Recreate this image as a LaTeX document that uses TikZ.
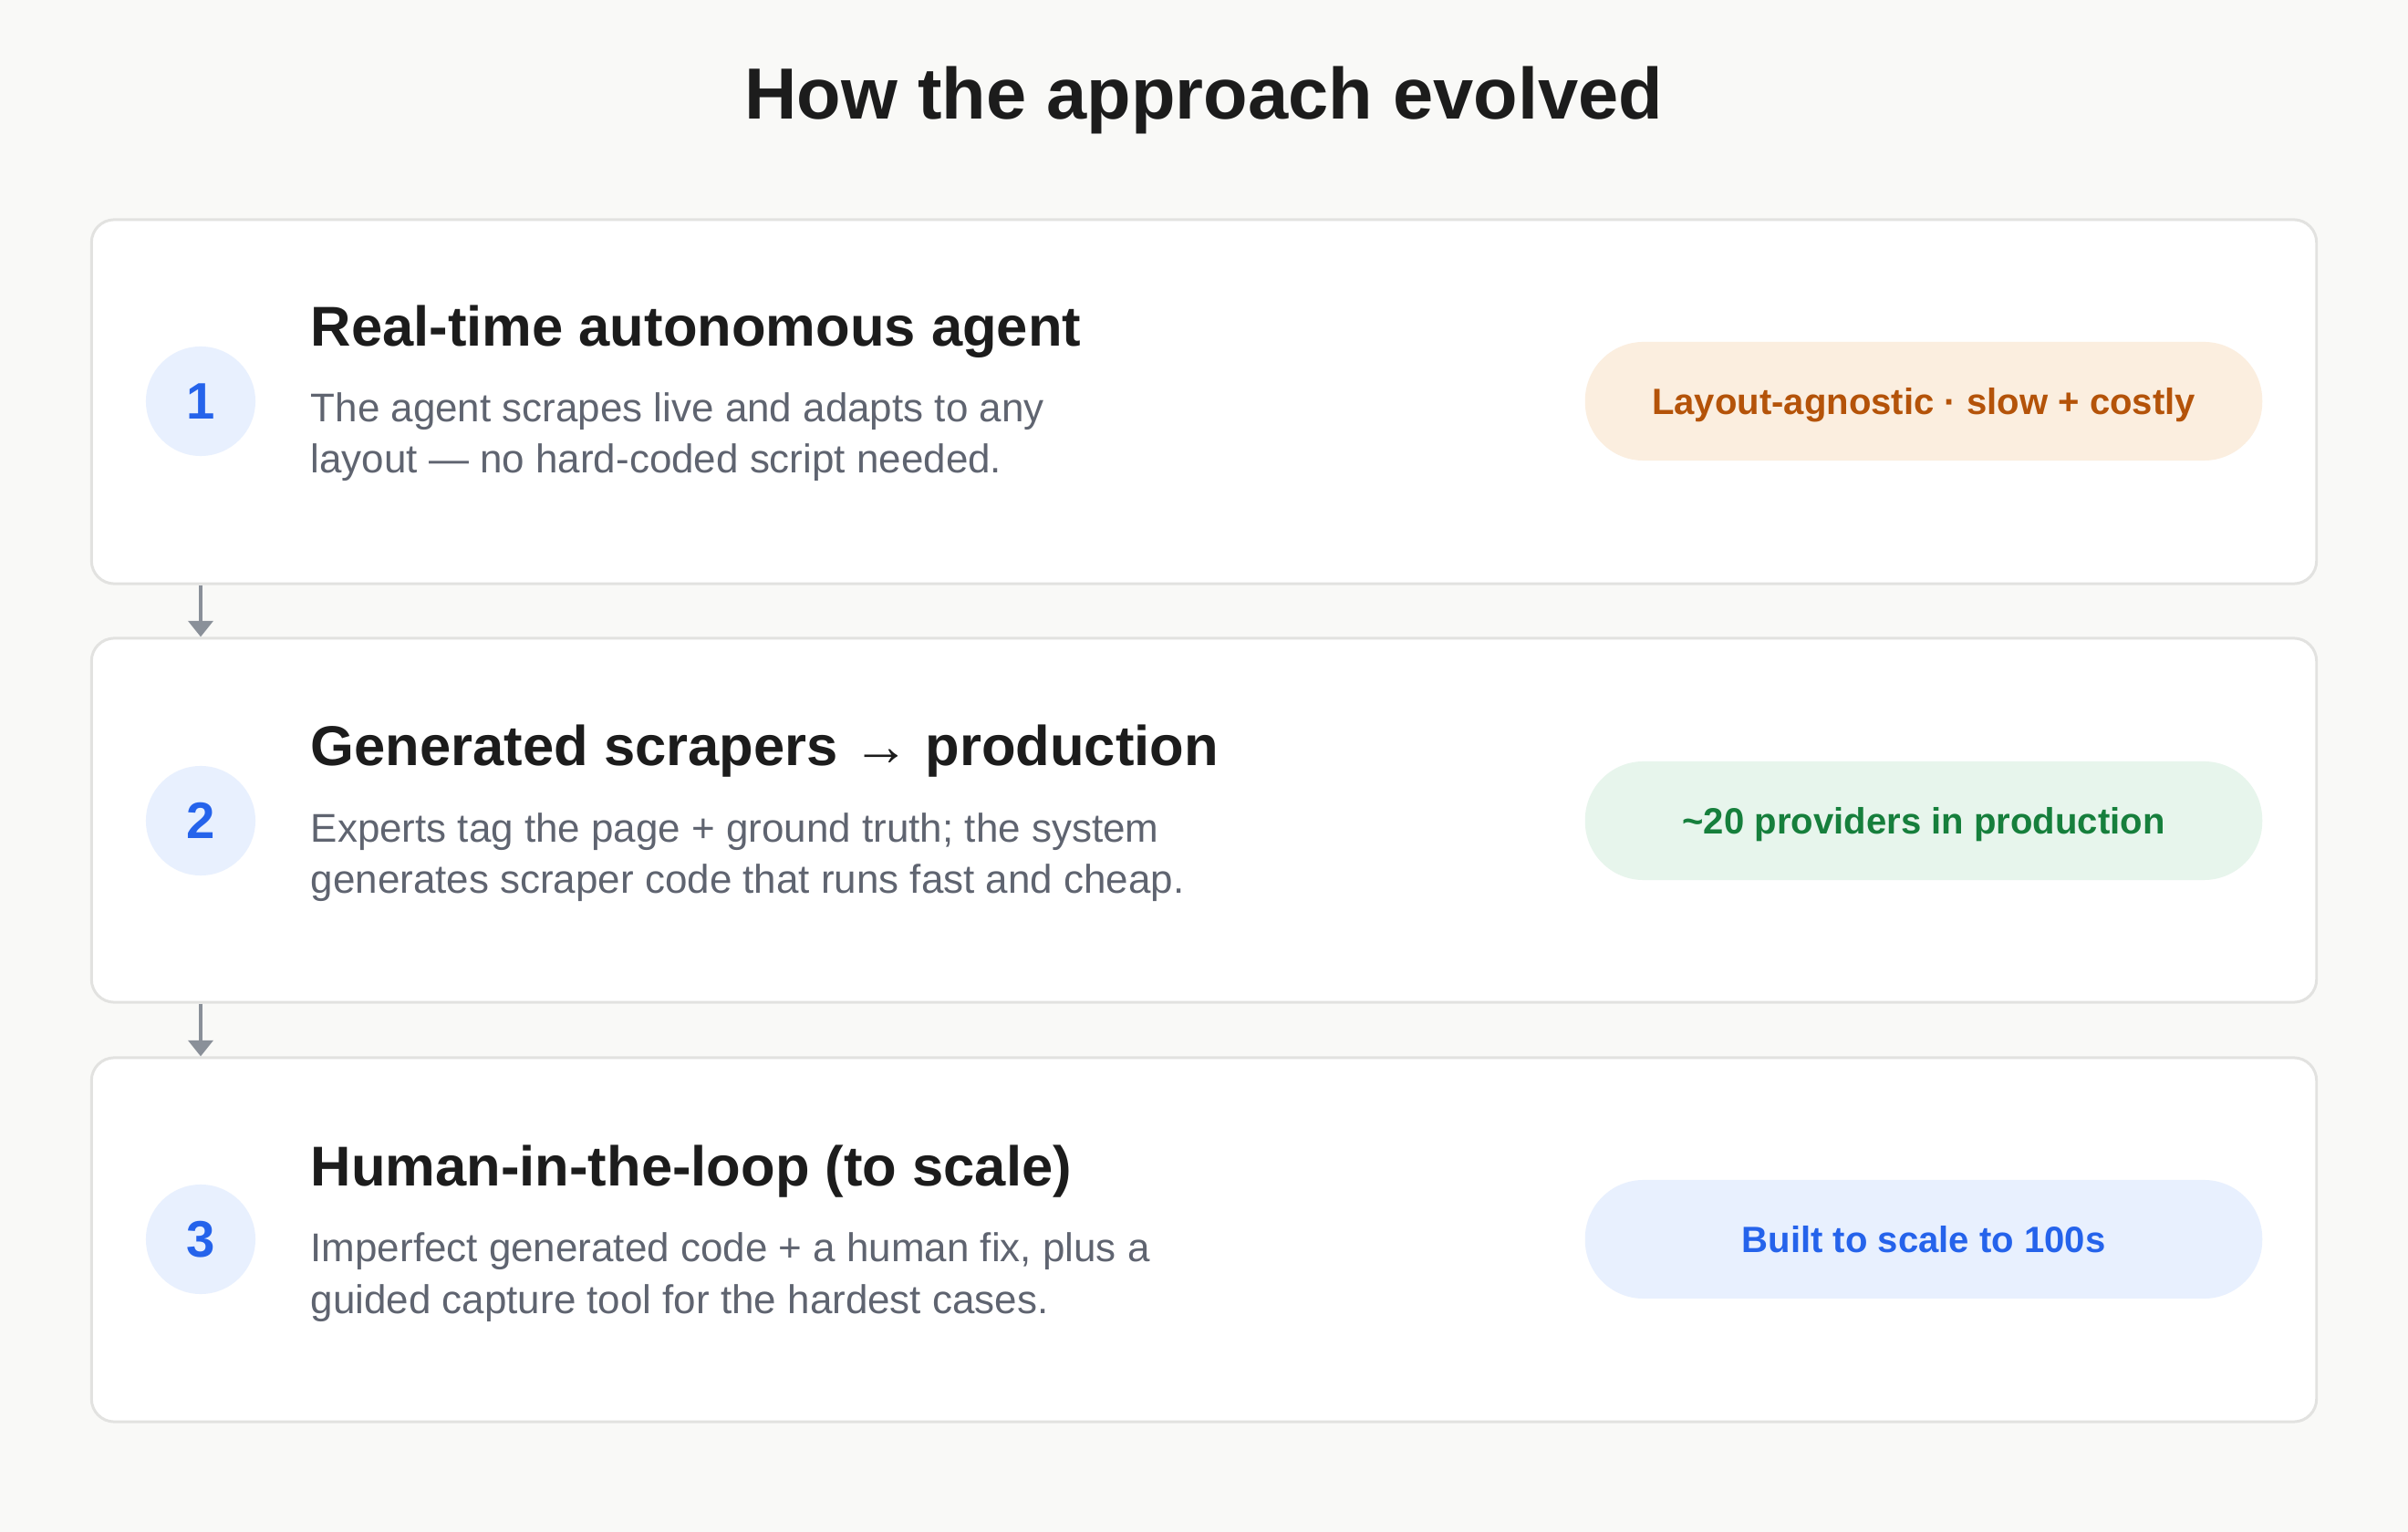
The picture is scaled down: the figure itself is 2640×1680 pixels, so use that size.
\documentclass[tikz,border=0pt]{standalone}
\usepackage{fontspec}
\setmainfont{Liberation Sans}
\usetikzlibrary{arrows.meta}

\definecolor{pagebg}{HTML}{F9F9F7}
\definecolor{cardline}{HTML}{E2E2E0}
\definecolor{headink}{HTML}{1C1C1C}
\definecolor{descink}{HTML}{5F6470}
\definecolor{numfill}{HTML}{E8F0FE}
\definecolor{numblue}{HTML}{2563EB}
\definecolor{arrowgray}{HTML}{8A9099}
\definecolor{orangefill}{HTML}{FBEEDF}
\definecolor{orangeink}{HTML}{B45309}
\definecolor{greenfill}{HTML}{E7F5EC}
\definecolor{greenink}{HTML}{167F3C}
\definecolor{bluefill}{HTML}{E8F0FE}
\definecolor{blueink}{HTML}{2563EB}

\begin{document}
\begin{tikzpicture}[x=0.01cm, y=-0.01cm,
  cardnode/.style={draw=cardline, line width=0.85pt, fill=white, rounded corners=0.25cm,
    minimum width=24.38cm, minimum height=3.99cm, inner sep=0},
  numnode/.style={shape=circle, fill=numfill, minimum size=1.2cm, inner sep=0,
    text=numblue, font=\fontsize{16}{19}\selectfont\bfseries},
  headnode/.style={anchor=base west, inner sep=0, text=headink,
    font=\fontsize{17.5}{21}\selectfont\bfseries},
  descnode/.style={anchor=base west, inner sep=0, align=left, text=descink,
    font=\fontsize{12.5}{16.2}\selectfont},
  pillnode/.style={rounded corners=0.64cm, minimum width=7.42cm, minimum height=1.3cm,
    inner sep=0, text height=8.2pt, text depth=0pt, font=\fontsize{11.4}{14}\selectfont\bfseries},
  flowarrow/.style={draw=arrowgray, line width=1.1pt, -{Triangle[width=7.7pt,length=5pt]}}
]

\fill[pagebg] (0,0) rectangle (2640,1680);
\useasboundingbox (0,0) rectangle (2640,1680);

\node[anchor=base, inner sep=0, text=headink, font=\fontsize{22.6}{27}\selectfont\bfseries]
  (title) at (1320,131) {How the approach evolved};

% stage 1
\node[cardnode] (card1) at (1320,440.5) {};
\node[numnode] (num1) at (220,440) {1};
\node[headnode] (head1) at (340,380) {Real-time autonomous agent};
\node[descnode] (desc1) at (340,519) {The agent scrapes live and adapts to any\\layout — no hard-coded script needed.};
\node[pillnode, fill=orangefill, text=orangeink] (pill1) at (2109,440) {Layout-agnostic · slow + costly};

% stage 2
\node[cardnode] (card2) at (1320,899.5) {};
\node[numnode] (num2) at (220,900) {2};
\node[headnode] (head2) at (340,840) {Generated scrapers → production};
\node[descnode] (desc2) at (340,980) {Experts tag the page + ground truth; the system\\generates scraper code that runs fast and cheap.};
\node[pillnode, fill=greenfill, text=greenink] (pill2) at (2109,900) {\textasciitilde20 providers in production};

% stage 3
\node[cardnode] (card3) at (1320,1359.5) {};
\node[numnode] (num3) at (220,1359) {3};
\node[headnode] (head3) at (340,1300) {Human-in-the-loop (to scale)};
\node[descnode] (desc3) at (340,1440) {Imperfect generated code + a human fix, plus a\\guided capture tool for the hardest cases.};
\node[pillnode, fill=bluefill, text=blueink] (pill3) at (2109,1359) {Built to scale to 100s};

\draw[flowarrow] (card1.south -| num1) -- (card2.north -| num2);
\draw[flowarrow] (card2.south -| num2) -- (card3.north -| num3);

\end{tikzpicture}
\end{document}
